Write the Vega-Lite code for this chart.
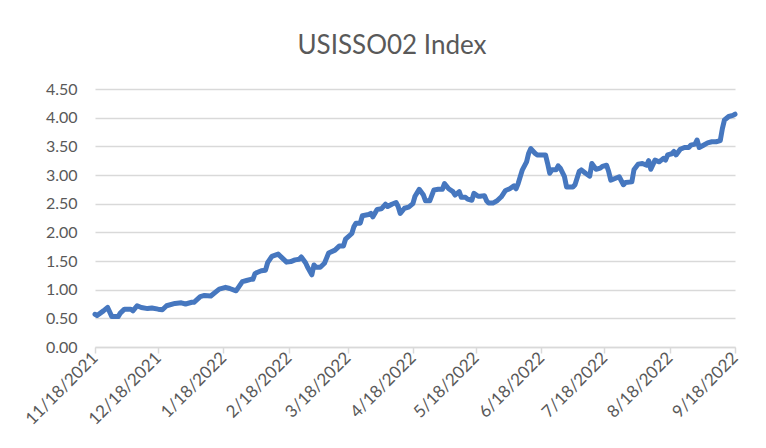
{
  "$schema": "https://vega.github.io/schema/vega-lite/v6.json",
  "autosize": "none",
  "width": 640,
  "height": 258,
  "padding": {"left": 95, "top": 89, "right": 31, "bottom": 101},
  "background": "white",
  "title": {
    "text": "USISSO02 Index",
    "fontSize": 26,
    "font": "Lato",
    "fontWeight": "normal",
    "color": "#595959",
    "anchor": "middle",
    "dx": -23,
    "offset": 22
  },
  "config": {
    "view": {"stroke": null},
    "font": "Lato"
  },
  "data": {
    "values": [
      {"date": "2021-11-18", "value": 0.57},
      {"date": "2021-11-19", "value": 0.55},
      {"date": "2021-11-22", "value": 0.63},
      {"date": "2021-11-24", "value": 0.69},
      {"date": "2021-11-26", "value": 0.53},
      {"date": "2021-11-29", "value": 0.53},
      {"date": "2021-11-30", "value": 0.59},
      {"date": "2021-12-02", "value": 0.66},
      {"date": "2021-12-05", "value": 0.66},
      {"date": "2021-12-06", "value": 0.63},
      {"date": "2021-12-08", "value": 0.72},
      {"date": "2021-12-10", "value": 0.69},
      {"date": "2021-12-13", "value": 0.67},
      {"date": "2021-12-15", "value": 0.68},
      {"date": "2021-12-18", "value": 0.66},
      {"date": "2021-12-20", "value": 0.65},
      {"date": "2021-12-22", "value": 0.72},
      {"date": "2021-12-26", "value": 0.76},
      {"date": "2021-12-29", "value": 0.77},
      {"date": "2021-12-31", "value": 0.75},
      {"date": "2022-01-03", "value": 0.78},
      {"date": "2022-01-04", "value": 0.78},
      {"date": "2022-01-07", "value": 0.88},
      {"date": "2022-01-09", "value": 0.90},
      {"date": "2022-01-12", "value": 0.89},
      {"date": "2022-01-13", "value": 0.92},
      {"date": "2022-01-16", "value": 1.01},
      {"date": "2022-01-19", "value": 1.04},
      {"date": "2022-01-21", "value": 1.02},
      {"date": "2022-01-24", "value": 0.98},
      {"date": "2022-01-27", "value": 1.14},
      {"date": "2022-01-29", "value": 1.16},
      {"date": "2022-01-31", "value": 1.18},
      {"date": "2022-02-01", "value": 1.18},
      {"date": "2022-02-02", "value": 1.28},
      {"date": "2022-02-03", "value": 1.30},
      {"date": "2022-02-05", "value": 1.33},
      {"date": "2022-02-07", "value": 1.34},
      {"date": "2022-02-08", "value": 1.47},
      {"date": "2022-02-10", "value": 1.58},
      {"date": "2022-02-13", "value": 1.62},
      {"date": "2022-02-15", "value": 1.55},
      {"date": "2022-02-17", "value": 1.48},
      {"date": "2022-02-19", "value": 1.49},
      {"date": "2022-02-21", "value": 1.52},
      {"date": "2022-02-23", "value": 1.53},
      {"date": "2022-02-24", "value": 1.57},
      {"date": "2022-02-26", "value": 1.47},
      {"date": "2022-02-27", "value": 1.39},
      {"date": "2022-03-01", "value": 1.26},
      {"date": "2022-03-02", "value": 1.43},
      {"date": "2022-03-03", "value": 1.39},
      {"date": "2022-03-05", "value": 1.39},
      {"date": "2022-03-07", "value": 1.46},
      {"date": "2022-03-08", "value": 1.55},
      {"date": "2022-03-09", "value": 1.64},
      {"date": "2022-03-12", "value": 1.69},
      {"date": "2022-03-14", "value": 1.76},
      {"date": "2022-03-16", "value": 1.76},
      {"date": "2022-03-17", "value": 1.88},
      {"date": "2022-03-20", "value": 1.98},
      {"date": "2022-03-21", "value": 2.10},
      {"date": "2022-03-22", "value": 2.16},
      {"date": "2022-03-24", "value": 2.16},
      {"date": "2022-03-25", "value": 2.29},
      {"date": "2022-03-28", "value": 2.31},
      {"date": "2022-03-29", "value": 2.33},
      {"date": "2022-03-30", "value": 2.27},
      {"date": "2022-04-01", "value": 2.40},
      {"date": "2022-04-03", "value": 2.41},
      {"date": "2022-04-05", "value": 2.49},
      {"date": "2022-04-06", "value": 2.45},
      {"date": "2022-04-08", "value": 2.49},
      {"date": "2022-04-10", "value": 2.52},
      {"date": "2022-04-11", "value": 2.45},
      {"date": "2022-04-12", "value": 2.33},
      {"date": "2022-04-14", "value": 2.42},
      {"date": "2022-04-16", "value": 2.44},
      {"date": "2022-04-18", "value": 2.50},
      {"date": "2022-04-19", "value": 2.63},
      {"date": "2022-04-21", "value": 2.75},
      {"date": "2022-04-23", "value": 2.65},
      {"date": "2022-04-24", "value": 2.55},
      {"date": "2022-04-26", "value": 2.55},
      {"date": "2022-04-28", "value": 2.74},
      {"date": "2022-04-30", "value": 2.75},
      {"date": "2022-05-02", "value": 2.75},
      {"date": "2022-05-03", "value": 2.85},
      {"date": "2022-05-05", "value": 2.76},
      {"date": "2022-05-07", "value": 2.71},
      {"date": "2022-05-08", "value": 2.65},
      {"date": "2022-05-10", "value": 2.71},
      {"date": "2022-05-11", "value": 2.61},
      {"date": "2022-05-13", "value": 2.61},
      {"date": "2022-05-14", "value": 2.58},
      {"date": "2022-05-16", "value": 2.56},
      {"date": "2022-05-17", "value": 2.68},
      {"date": "2022-05-19", "value": 2.63},
      {"date": "2022-05-20", "value": 2.63},
      {"date": "2022-05-22", "value": 2.64},
      {"date": "2022-05-23", "value": 2.55},
      {"date": "2022-05-24", "value": 2.51},
      {"date": "2022-05-26", "value": 2.51},
      {"date": "2022-05-28", "value": 2.55},
      {"date": "2022-05-30", "value": 2.62},
      {"date": "2022-06-01", "value": 2.73},
      {"date": "2022-06-03", "value": 2.76},
      {"date": "2022-06-05", "value": 2.81},
      {"date": "2022-06-06", "value": 2.76},
      {"date": "2022-06-07", "value": 2.85},
      {"date": "2022-06-09", "value": 3.09},
      {"date": "2022-06-11", "value": 3.23},
      {"date": "2022-06-12", "value": 3.38},
      {"date": "2022-06-13", "value": 3.46},
      {"date": "2022-06-15", "value": 3.38},
      {"date": "2022-06-16", "value": 3.35},
      {"date": "2022-06-18", "value": 3.35},
      {"date": "2022-06-20", "value": 3.35},
      {"date": "2022-06-21", "value": 3.20},
      {"date": "2022-06-22", "value": 3.03},
      {"date": "2022-06-23", "value": 3.09},
      {"date": "2022-06-25", "value": 3.09},
      {"date": "2022-06-26", "value": 3.16},
      {"date": "2022-06-27", "value": 3.12},
      {"date": "2022-06-29", "value": 2.97},
      {"date": "2022-06-30", "value": 2.79},
      {"date": "2022-07-03", "value": 2.79},
      {"date": "2022-07-04", "value": 2.83},
      {"date": "2022-07-06", "value": 3.06},
      {"date": "2022-07-07", "value": 3.09},
      {"date": "2022-07-09", "value": 3.03},
      {"date": "2022-07-11", "value": 2.98},
      {"date": "2022-07-12", "value": 3.20},
      {"date": "2022-07-14", "value": 3.10},
      {"date": "2022-07-16", "value": 3.12},
      {"date": "2022-07-17", "value": 3.15},
      {"date": "2022-07-19", "value": 3.17},
      {"date": "2022-07-20", "value": 3.06},
      {"date": "2022-07-21", "value": 2.91},
      {"date": "2022-07-23", "value": 2.94},
      {"date": "2022-07-25", "value": 2.97},
      {"date": "2022-07-27", "value": 2.83},
      {"date": "2022-07-28", "value": 2.87},
      {"date": "2022-07-31", "value": 2.88},
      {"date": "2022-08-01", "value": 3.09},
      {"date": "2022-08-03", "value": 3.19},
      {"date": "2022-08-05", "value": 3.20},
      {"date": "2022-08-07", "value": 3.17},
      {"date": "2022-08-08", "value": 3.25},
      {"date": "2022-08-09", "value": 3.10},
      {"date": "2022-08-11", "value": 3.26},
      {"date": "2022-08-13", "value": 3.23},
      {"date": "2022-08-15", "value": 3.29},
      {"date": "2022-08-16", "value": 3.26},
      {"date": "2022-08-17", "value": 3.35},
      {"date": "2022-08-19", "value": 3.37},
      {"date": "2022-08-20", "value": 3.41},
      {"date": "2022-08-21", "value": 3.35},
      {"date": "2022-08-23", "value": 3.45},
      {"date": "2022-08-25", "value": 3.48},
      {"date": "2022-08-27", "value": 3.48},
      {"date": "2022-08-28", "value": 3.52},
      {"date": "2022-08-30", "value": 3.54},
      {"date": "2022-08-31", "value": 3.61},
      {"date": "2022-09-01", "value": 3.48},
      {"date": "2022-09-03", "value": 3.52},
      {"date": "2022-09-05", "value": 3.56},
      {"date": "2022-09-07", "value": 3.58},
      {"date": "2022-09-09", "value": 3.58},
      {"date": "2022-09-11", "value": 3.60},
      {"date": "2022-09-12", "value": 3.81},
      {"date": "2022-09-13", "value": 3.96},
      {"date": "2022-09-15", "value": 4.02},
      {"date": "2022-09-17", "value": 4.04},
      {"date": "2022-09-18", "value": 4.06}
    ]
  },
  "mark": {"type": "line", "color": "#4677BF", "strokeWidth": 5, "strokeJoin": "round", "strokeCap": "round", "clip": false},
  "encoding": {
    "x": {
      "field": "date",
      "type": "temporal",
      "scale": {"type": "utc", "domain": [{"year": 2021, "month": 11, "date": 18, "utc": true}, {"year": 2022, "month": 9, "date": 18, "utc": true}]},
      "axis": {
        "title": null,
        "values": [
          {"year": 2021, "month": 11, "date": 18, "utc": true},
          {"year": 2021, "month": 12, "date": 18, "utc": true},
          {"year": 2022, "month": 1, "date": 18, "utc": true},
          {"year": 2022, "month": 2, "date": 18, "utc": true},
          {"year": 2022, "month": 3, "date": 18, "utc": true},
          {"year": 2022, "month": 4, "date": 18, "utc": true},
          {"year": 2022, "month": 5, "date": 18, "utc": true},
          {"year": 2022, "month": 6, "date": 18, "utc": true},
          {"year": 2022, "month": 7, "date": 18, "utc": true},
          {"year": 2022, "month": 8, "date": 18, "utc": true},
          {"year": 2022, "month": 9, "date": 18, "utc": true}
        ],
        "format": "%-m/%-d/%Y",
        "labelAngle": -45,
        "labelAlign": "right",
        "labelBaseline": "middle",
        "labelFontSize": 17,
        "labelColor": "#595959",
        "labelPadding": 2,
        "labelOverlap": false,
        "labelFlush": false,
        "grid": false,
        "domainColor": "#d9d9d9",
        "domainWidth": 1.5,
        "tickColor": "#d9d9d9",
        "tickWidth": 1.5,
        "tickSize": 6
      }
    },
    "y": {
      "field": "value",
      "type": "quantitative",
      "scale": {"domain": [0, 4.5]},
      "axis": {
        "title": null,
        "values": [0, 0.5, 1, 1.5, 2, 2.5, 3, 3.5, 4, 4.5],
        "format": ".2f",
        "labelFontSize": 16,
        "labelColor": "#595959",
        "labelPadding": 18,
        "domain": false,
        "ticks": false,
        "grid": true,
        "gridColor": "#d9d9d9",
        "gridWidth": 1.5
      }
    }
  }
}
